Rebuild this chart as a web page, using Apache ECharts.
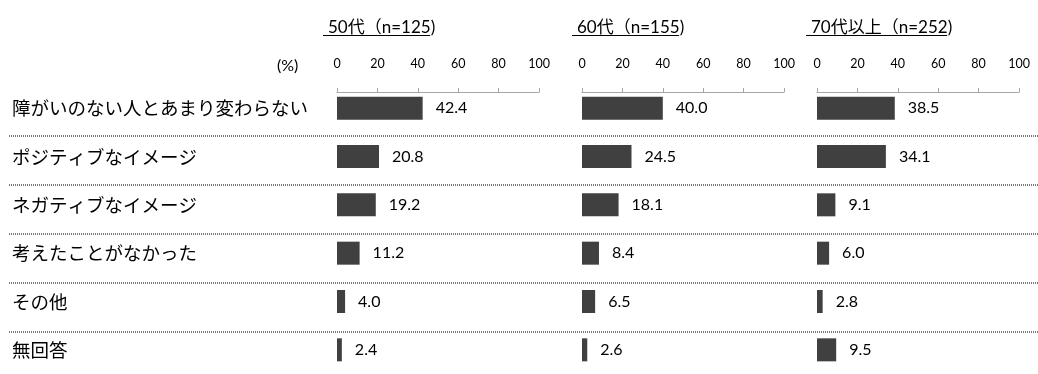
<!DOCTYPE html>
<html>
<head>
<meta charset="utf-8">
<script src="https://cdn.jsdelivr.net/npm/echarts@6/dist/echarts.min.js"></script>
<style>
  html, body { margin: 0; padding: 0; background: #fff; }
  #main { width: 1038px; height: 374px; }
</style>
</head>
<body>
<div id="main"></div>
<script>
// 年代別 障がい者イメージ
var categories = ['障がいのない人とあまり変わらない', 'ポジティブなイメージ', 'ネガティブなイメージ', '考えたことがなかった', 'その他', '無回答'];
var groups = ['50代（n=125)', '60代（n=155)', '70代以上（n=252)'];
var values50 = [42.4, 20.8, 19.2, 11.2, 4.0, 2.4];
var values60 = [40.0, 24.5, 18.1, 8.4, 6.5, 2.6];
var values70 = [38.5, 34.1, 9.1, 6.0, 2.8, 9.5];
var unitLabel = '(%)';
var xMin = 0, xMax = 100, xStep = 20;

var panelLeft = [337, 582, 817];   // 各パネルの0位置
var panelWidth = 202;
var titleLeft = [323, 572, 806];
var rowTop = 84, rowH = 49.1;
var numFont = 'Lato, "Noto Sans CJK JP", sans-serif';
var jpFont = '"Noto Sans CJK JP", sans-serif';

var allValues = [values50, values60, values70];

function measure(text, font) {
    var ctx = document.createElement('canvas').getContext('2d');
    ctx.font = font;
    return ctx.measureText(text).width;
}

var grid = [], xAxis = [], yAxis = [], series = [], title = [], graphic = [];

for (var i = 0; i < 3; i++) {
    grid.push({ left: panelLeft[i], width: panelWidth, top: rowTop, height: rowH * categories.length });
    xAxis.push({
        gridIndex: i, type: 'value', position: 'top', offset: rowTop - 92,
        min: xMin, max: xMax, interval: xStep,
        axisLine: { show: true, lineStyle: { color: '#a6a6a6', width: 1 } },
        axisTick: { show: true, length: 4, lineStyle: { color: '#a6a6a6' } },
        axisLabel: { margin: 22, fontSize: 12.5, color: '#000', fontFamily: numFont },
        splitLine: { show: false }
    });
    yAxis.push({
        gridIndex: i, type: 'category', inverse: true, data: categories,
        axisLine: { show: false }, axisTick: { show: false },
        axisLabel: {
            show: i === 0, align: 'left', margin: panelLeft[0] - 12,
            fontSize: 18.5, color: '#000', fontFamily: jpFont
        }
    });
    series.push({
        type: 'bar', xAxisIndex: i, yAxisIndex: i,
        data: allValues[i], barWidth: 23,
        itemStyle: { color: '#404040' },
        label: {
            show: true, position: 'right', distance: 13,
            fontSize: 16, color: '#000', fontFamily: numFont,
            formatter: function (p) { return p.value.toFixed(1); }
        },
        silent: true, animation: false
    });
    title.push({
        text: groups[i], left: titleLeft[i], top: 14,
        textStyle: { fontSize: 17, fontWeight: 'normal', color: '#000', fontFamily: numFont }
    });
    var w = measure(groups[i], '17px ' + numFont);
    graphic.push({
        type: 'line', silent: true,
        shape: { x1: titleLeft[i], y1: 35.5, x2: titleLeft[i] + w, y2: 35.5 },
        style: { stroke: '#000', lineWidth: 1 }
    });
}

title.push({
    text: unitLabel, left: 272, top: 53,
    textStyle: { fontSize: 16, fontWeight: 'normal', color: '#000', fontFamily: numFont }
});

// 区切り線（点線）
grid.push({ left: 9, right: 0, top: 135.3, height: rowH * 4 });
xAxis.push({ gridIndex: 3, type: 'value', min: 0, max: 1, show: false });
yAxis.push({
    gridIndex: 3, type: 'value', inverse: true, min: 1, max: 5, interval: 1,
    axisLine: { show: false }, axisTick: { show: false }, axisLabel: { show: false },
    splitLine: { show: true, lineStyle: { color: '#777', width: 2, type: [1, 1] } }
});

var chart = echarts.init(document.getElementById('main'));
chart.setOption({
    animation: false,
    title: title,
    grid: grid,
    xAxis: xAxis,
    yAxis: yAxis,
    series: series,
    graphic: graphic
});
</script>
</body>
</html>
